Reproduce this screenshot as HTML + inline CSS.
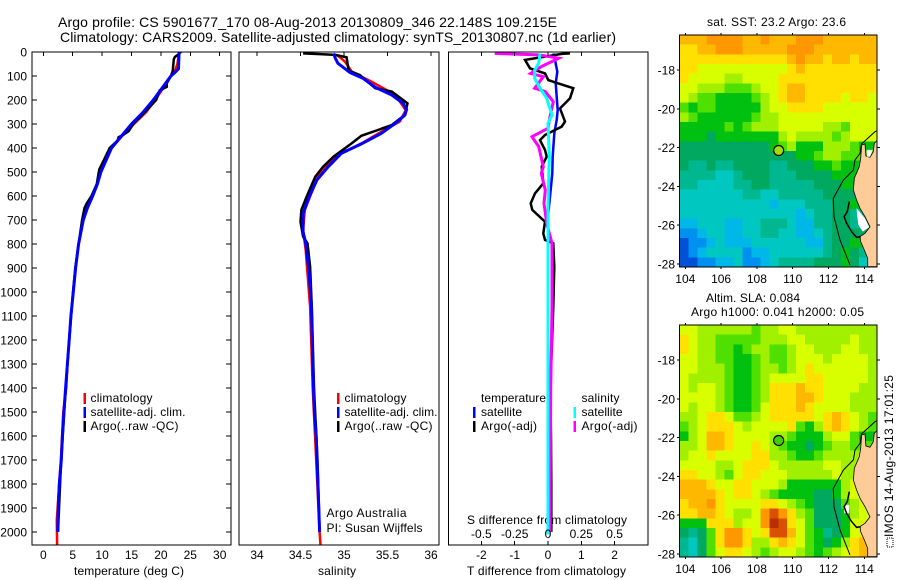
<!DOCTYPE html>
<html>
<head>
<meta charset="utf-8">
<title>Argo profile</title>
<style>
html,body{margin:0;padding:0;background:#fff;width:900px;height:580px;overflow:hidden}
svg{display:block}
text{font-family:"Liberation Sans",sans-serif;font-size:12px;fill:#000}
</style>
</head>
<body>
<svg id="chart" xmlns="http://www.w3.org/2000/svg" width="900" height="580" viewBox="0 0 900 580">
<text x="58" y="27" style="font-size:14px" textLength="499" lengthAdjust="spacing">Argo profile: CS 5901677_170 08-Aug-2013 20130809_346 22.148S 109.215E</text>
<text x="60" y="42" style="font-size:14px" textLength="556" lengthAdjust="spacing">Climatology: CARS2009. Satellite-adjusted climatology: synTS_20130807.nc (1d earlier)</text>

<text x="74" y="575" textLength="110" lengthAdjust="spacing">temperature (deg C)</text>
<text x="318" y="575" textLength="38" lengthAdjust="spacing">salinity</text>
<text x="467" y="575" textLength="159" lengthAdjust="spacing">T difference from climatology</text>
<text x="467" y="524" textLength="160" lengthAdjust="spacing">S difference from climatology</text>

<rect x="83.5" y="393" width="2.5" height="11" fill="#ff0000"/>
<rect x="83.5" y="407" width="2.5" height="11" fill="#0000ff"/>
<rect x="83.5" y="421" width="2.5" height="11" fill="#000000"/>
<text x="90.5" y="402" textLength="62" lengthAdjust="spacing">climatology</text>
<text x="90.5" y="416" textLength="95" lengthAdjust="spacing">satellite-adj. clim.</text>
<text x="90.5" y="430" textLength="88" lengthAdjust="spacing">Argo(..raw -QC)</text>

<rect x="337" y="393" width="2.5" height="11" fill="#ff0000"/>
<rect x="337" y="407" width="2.5" height="11" fill="#0000ff"/>
<rect x="337" y="421" width="2.5" height="11" fill="#000000"/>
<text x="344.5" y="402" textLength="62" lengthAdjust="spacing">climatology</text>
<text x="344.5" y="416" textLength="93" lengthAdjust="spacing">satellite-adj. clim.</text>
<text x="344.5" y="430" textLength="88" lengthAdjust="spacing">Argo(..raw -QC)</text>
<text x="326.5" y="517" textLength="80" lengthAdjust="spacing">Argo Australia</text>
<text x="326.5" y="532" textLength="96" lengthAdjust="spacing">PI: Susan Wijffels</text>

<rect x="473" y="407" width="2.5" height="11" fill="#0000ff"/>
<rect x="473" y="421" width="2.5" height="11" fill="#000000"/>
<rect x="573.5" y="407" width="2.5" height="11" fill="#00ffff"/>
<rect x="573.5" y="421" width="2.5" height="11" fill="#ff00ff"/>
<text x="481" y="402" textLength="65" lengthAdjust="spacing">temperature</text>
<text x="481" y="416" textLength="41" lengthAdjust="spacing">satellite</text>
<text x="481" y="430" textLength="56" lengthAdjust="spacing">Argo(-adj)</text>
<text x="581.5" y="402" textLength="38" lengthAdjust="spacing">salinity</text>
<text x="581.5" y="416" textLength="41" lengthAdjust="spacing">satellite</text>
<text x="581.5" y="430" textLength="56" lengthAdjust="spacing">Argo(-adj)</text>

<text x="707" y="26" textLength="139" lengthAdjust="spacing">sat. SST: 23.2 Argo: 23.6</text>
<text x="706" y="302" textLength="94" lengthAdjust="spacing">Altim. SLA: 0.084</text>
<text x="691" y="316" textLength="173" lengthAdjust="spacing">Argo h1000: 0.041 h2000: 0.05</text>

<rect x="887" y="538" width="6" height="9" fill="none" stroke="#000" stroke-width="1" stroke-dasharray="1 1"/>
<text transform="translate(893,537) rotate(-90)" textLength="162" lengthAdjust="spacing">IMOS 14-Aug-2013 17:01:25</text>
</svg>

<script>
// ---- profile data ----
const tempDepths      = [0,70,85,100,150,200,250,300,350,400,450,500,550,600,650,700,800,900,1000,1100,1200,1300,1400,1500,1600,1700,1800,1900,2000];
const tempSatellite   = [23.1,23.0,22.4,21.7,20.2,18.7,17.0,15.0,13.3,11.6,10.7,9.8,9.2,8.4,7.5,6.8,6.0,5.5,5.1,4.7,4.4,4.1,3.8,3.5,3.24,3.06,2.72,2.55,2.45];
const tempClimDepths  = [0,50,85,100,150,200,250,300,350,400,450,500,550,600,650,700,800,900,1000,1100,1200,1300,1400,1500,1600,1700,1800,1950,2054];
const tempClimatology = [23.1,22.8,22.3,21.7,20.4,19.0,17.5,15.4,13.4,11.6,10.7,9.8,9.2,8.4,7.5,6.8,6.0,5.5,5.1,4.7,4.4,4.1,3.9,3.4,3.2,3.0,2.7,2.3,2.35];
const tempArgoDepths  = [0,10,20,30,80,100,130,145,160,200,250,300,330,345,355,370,400,450,490,550,600,630,650,700,800,900,1000,1250,1500,1750,2000];
const tempArgo        = [23.4,23.0,22.4,22.2,22.0,21.7,21.0,21.0,19.8,19.2,17.3,15.3,14.5,13.6,12.8,12.6,11.3,10.3,9.5,9.1,8.2,7.4,7.0,6.6,6.0,5.45,5.05,4.25,3.55,2.95,2.5];

const salSatDepths    = [6,26,47,86,110,147,179,214,239,263,297,339,383,422,478,533,603,672,749,797,922,1061,1400,1500,1600,1700,1800,1900,2000];
const salSatellite    = [34.88,34.90,34.93,35.07,35.22,35.36,35.55,35.68,35.72,35.70,35.59,35.43,35.20,34.97,34.82,34.69,34.60,34.53,34.53,34.56,34.60,34.625,34.65,34.66,34.68,34.69,34.70,34.71,34.72];
const salClimDepths   = [12,40,82,124,179,242,290,332,381,436,519,658,742,825,922,1061,1400,1700,2000,2054];
const salClimatology  = [34.92,35.01,35.09,35.32,35.59,35.71,35.64,35.43,35.20,34.90,34.70,34.55,34.53,34.56,34.58,34.61,34.64,34.68,34.72,34.73];
const salArgoDepths   = [6,8,12,22,68,80,96,151,165,214,262,304,325,349,380,436,478,519,603,658,707,769,797,894,1061,1400,1700,2000];
const salArgo         = [34.53,34.66,34.90,35.03,35.05,35.07,35.18,35.36,35.55,35.73,35.70,35.55,35.39,35.20,35.09,34.88,34.76,34.67,34.57,34.51,34.50,34.53,34.58,34.61,34.63,34.655,34.695,34.72];

const dTSatDepths     = [6,33,82,131,186,242,283,339,436,506,603,672,783,1061,1500,2000];
const dTSatellite     = [0.16,0.21,0.28,0.23,0.26,0.29,0.26,0.19,0.14,0.13,0.06,0.01,0.01,0.0,0.0,0.0];
const dTArgoDepths    = [6,8,33,68,89,117,131,151,193,235,290,311,346,367,408,436,478,547,589,631,658,707,756,783,797,894,1061,1400,1600,1800,2000];
const dTArgo          = [0.66,0.41,-0.69,-0.54,-0.09,0.01,0.31,0.76,0.66,0.36,0.51,0.41,-0.09,-0.24,-0.09,-0.04,-0.19,-0.14,-0.39,-0.52,-0.47,-0.09,-0.14,-0.09,0.16,0.19,0.16,0.07,0.09,0.10,0.10];
const dSArgoDepths    = [6,12,26,61,89,103,151,165,207,269,318,353,394,478,506,575,631,714,797,1061,1400,2000];
const dSArgo          = [-0.40,-0.07,0.08,-0.05,-0.13,-0.035,-0.10,-0.02,0.04,0.015,0,-0.12,-0.07,-0.035,-0.05,-0.02,-0.03,-0.01,0.03,0.03,0.02,0.015];
const dSSatDepths     = [6,47,75,110,151,193,262,297,436,644,1061,2010];
const dSSatellite     = [-0.06,-0.07,-0.10,-0.10,-0.06,-0.01,0.03,0,0.01,0,0,0];

// ---- tick labels ----
const depthTicks = [0,100,200,300,400,500,600,700,800,900,1000,1100,1200,1300,1400,1500,1600,1700,1800,1900,2000];
const tempTicks  = [0,5,10,15,20,25,30];
const salTicks   = [34,34.5,35,35.5,36];
const dTTicks    = [-2,-1,0,1,2];
const dSTicks    = [-0.5,-0.25,0,0.25,0.5];
const lonTicks   = [104,106,108,110,112,114];
const latTicks   = [-18,-20,-22,-24,-26,-28];

// ---- map fields: colour-level per cell, north to south, west to east ----
const sstField = [
[11,11,11,12,12,12,12,11,11,12,11,11,11,12,12,12,11,11,11,11,11,11],
[10,10,11,11,12,12,12,11,11,11,11,11,12,12,12,11,11,11,11,11,11,11],
[10,10,10,10,10,10,10,10,10,10,10,10,11,12,11,11,10,11,11,10,11,11],
[10,10,9,9,9,9,9,9,9,9,9,9,10,11,10,10,10,10,10,10,10,10],
[10,9,9,9,9,8,8,9,9,9,9,10,10,10,10,10,10,10,10,10,10,10],
[9,9,8,8,8,7,7,7,8,9,9,10,11,11,10,10,10,10,10,10,10,10],
[9,8,7,7,6,6,6,6,7,8,9,10,11,11,10,10,10,10,9,10,10,9],
[7,6,7,7,6,6,6,6,6,8,9,9,10,10,10,10,9,9,9,9,9,9],
[8,7,6,6,6,6,6,6,7,8,8,9,9,9,9,9,9,9,9,9,9,9],
[6,6,6,6,6,7,6,7,8,8,8,9,9,9,9,9,8,8,7,9,9,9],
[6,6,6,5,6,6,6,6,6,6,6,8,9,8,8,8,8,7,8,9,9,9],
[5,5,5,5,5,5,5,5,5,5,6,7,8,6,6,6,8,8,8,7,6,6],
[5,5,5,5,5,5,5,5,5,5,5,5,5,6,6,7,8,8,7,7,7,7],
[5,4,4,5,4,4,5,5,5,5,4,4,5,5,5,6,6,7,6,6,6,6],
[4,4,4,4,3,3,4,5,5,5,4,4,4,5,5,5,5,6,6,6,6,6],
[4,4,3,3,3,3,4,4,5,5,4,4,4,4,4,5,5,5,6,6,6,6],
[3,3,3,3,3,3,3,4,4,3,3,4,4,4,4,4,5,5,5,5,5,5],
[3,3,3,3,3,3,3,3,3,3,2,3,3,3,4,4,4,5,5,6,6,6],
[3,3,3,3,3,3,3,3,3,3,3,3,3,2,3,4,4,5,5,4,4,4],
[2,2,3,3,3,2,2,3,3,4,4,4,3,2,2,4,4,5,5,4,4,4],
[1,1,2,3,3,2,2,3,3,4,4,3,3,2,2,3,4,5,5,5,5,5],
[0,1,1,2,3,2,2,2,3,3,3,3,3,3,2,2,4,5,5,6,6,6],
[0,1,2,3,3,3,3,1,2,2,3,3,3,3,3,3,4,5,6,5,4,4],
[0,0,1,1,2,2,3,1,1,2,3,4,4,4,4,5,5,5,6,5,3,3]
];
const slaField = [
[9,9,8,8,8,8,8,8,7,8,8,9,9,8,8,8,8,8,8,8,8,8],
[10,9,8,8,7,7,7,7,7,8,8,8,9,9,8,8,8,8,8,9,8,8],
[10,9,8,8,7,7,6,7,8,8,7,7,8,9,9,8,8,8,9,9,8,8],
[9,9,8,8,7,7,6,6,7,8,7,7,8,9,9,9,8,9,9,9,9,8],
[9,9,8,8,8,7,6,6,7,8,8,7,8,9,10,9,9,9,9,9,9,8],
[9,8,8,8,8,7,6,6,7,8,9,9,9,9,10,10,9,9,9,9,9,8],
[9,8,9,9,8,7,6,6,7,8,10,10,10,11,10,10,9,9,9,9,8,8],
[9,9,9,9,8,7,6,6,7,8,10,10,10,11,11,10,9,9,9,8,8,8],
[9,8,9,9,8,7,6,6,7,9,10,10,10,11,10,9,9,9,9,8,8,8],
[8,8,9,10,10,9,7,7,8,9,10,10,10,10,10,9,10,11,10,9,8,7],
[7,8,9,10,10,10,9,8,9,9,9,9,10,7,6,8,10,11,10,9,8,7],
[6,8,9,11,11,10,9,9,9,9,8,8,7,6,6,6,8,9,9,7,6,6],
[8,8,9,11,11,10,9,9,10,9,8,7,6,6,5,6,7,8,8,7,7,7],
[8,9,9,10,9,9,9,9,10,10,8,8,7,6,6,7,8,8,8,8,8,8],
[9,9,9,9,8,8,9,10,10,10,9,8,8,8,8,8,9,9,8,8,8,8],
[10,10,9,9,8,7,9,10,10,9,9,9,8,8,8,8,8,9,8,8,8,8],
[11,11,11,10,9,9,10,10,9,9,9,8,6,6,6,6,6,6,8,9,9,9],
[11,11,11,11,10,9,10,10,9,8,7,6,6,6,6,5,5,6,8,9,9,9],
[10,11,11,12,10,9,9,9,9,10,10,9,8,7,6,5,5,5,7,8,9,9],
[10,10,11,11,10,9,8,8,9,12,13,12,10,8,7,5,5,5,6,8,9,9],
[6,6,6,10,10,10,8,9,9,12,14,13,10,9,7,5,5,5,6,9,9,9],
[5,4,5,7,10,12,12,10,9,10,13,13,11,9,7,6,4,5,6,9,10,10],
[4,3,5,7,10,12,12,10,8,8,10,11,10,9,7,6,5,6,8,10,11,11],
[4,3,5,7,9,10,10,9,8,7,8,9,9,8,7,6,7,8,9,10,11,11]
];
const levelColors = ['#0050d8','#0090f0','#00b8e8','#00c8c0','#00b890','#00a860','#00c010','#50e000','#a0f000','#d8ff00','#ffe000','#ffb800','#ff9800','#d85000','#b83000'];

// ---- geography (degrees) ----
const landLon = [113.85,114.04,114.09,114.32,114.50,114.56,114.71,114.71,114.19,114.19,114.04,113.80,113.76,114.04,114.32,114.04,113.76,113.57,113.39,113.44,113.72,113.80];
const landLat = [-21.87,-21.81,-22.43,-22.50,-22.21,-21.78,-21.64,-28.14,-28.14,-27.71,-27.36,-26.85,-26.59,-26.42,-26.08,-25.56,-25.13,-24.70,-24.19,-23.58,-22.98,-22.55];
const contourLon = [114.71,114.60,113.85,113.76,113.48,113.39,112.83,112.27,112.31,112.64,113.20];
const contourLat = [-21.13,-21.18,-21.81,-22.30,-22.64,-23.15,-23.67,-24.62,-25.56,-26.76,-28.05];
const bayLon = [113.16,113.05,112.87,113.01,113.29,113.57,113.80];
const bayLat = [-24.79,-25.30,-25.56,-25.90,-26.33,-26.63,-26.59];
const sstWhiteLon = [113.57,114.04,114.28,113.91,113.67,113.61];
const sstWhiteLat = [-25.13,-25.65,-26.11,-26.33,-25.99,-25.56];
const slaWhiteLon = [112.87,113.16,113.16,112.87];
const slaWhiteLat = [-25.47,-25.47,-25.90,-25.90];
const gulfWhiteLon = [114.13,114.47,114.32,114.16];
const gulfWhiteLat = [-22.12,-22.12,-22.47,-22.47];
const argoLon = 109.215;
const argoLat = -22.148;

// ---- axis functions ----
const depthY = d => 52 + 0.24 * d;
const tempX = t => 43.3 + 5.88 * t;
const salX = s => 257 + 87 * (s - 34);
const dTX = v => 548 + 33.3 * v;
const dSX = v => 548 + 133.2 * v;
const lonX = lon => 685.3 + 17.9 * (lon - 104);
const latY = (lat, top) => top + 70 + 19.4 * (-18 - lat);

const svg = document.getElementById('chart');
const NS = 'http://www.w3.org/2000/svg';
function mk(tag, attrs, parent) {
  const el = document.createElementNS(NS, tag);
  for (const k in attrs) el.setAttribute(k, attrs[k]);
  (parent || svg).appendChild(el);
  return el;
}
function label(str, x, y, anchor) {
  const el = mk('text', {x: x, y: y, 'text-anchor': anchor});
  el.textContent = str;
  return el;
}

// clip regions
const defs = mk('defs', {});
function clip(id, x, y, w, h) {
  const c = mk('clipPath', {id: id}, defs);
  mk('rect', {x: x, y: y, width: w, height: h}, c);
}
clip('clip-temp', 32, 52, 199, 493);
clip('clip-sal', 239, 52, 200, 493);
clip('clip-diff', 448.5, 52, 199.5, 493);
clip('clip-map1', 679.5, 35, 197.5, 232);
clip('clip-map2', 679.5, 325, 197.5, 232);

function series(depths, values, xFn, color, clipId, width) {
  const pts = depths.map((d, i) => xFn(values[i]).toFixed(1) + ',' + depthY(d).toFixed(1)).join(' ');
  return mk('polyline', {points: pts, fill: 'none', stroke: color, 'stroke-width': width, 'stroke-linejoin': 'miter', 'clip-path': 'url(#' + clipId + ')'});
}

// ---- temperature panel ----
let el;
el = series(tempClimDepths, tempClimatology, tempX, '#ff0000', 'clip-temp', 2.5);


el = series(tempArgoDepths, tempArgo, tempX, '#000000', 'clip-temp', 2.5);


el = series(tempDepths, tempSatellite, tempX, '#0000ff', 'clip-temp', 3);



// ---- salinity panel ----
el = series(salClimDepths, salClimatology, salX, '#ff0000', 'clip-sal', 2.5);


el = series(salArgoDepths, salArgo, salX, '#000000', 'clip-sal', 2.5);


el = series(salSatDepths, salSatellite, salX, '#0000ff', 'clip-sal', 3);



// ---- difference panel ----
el = series(dTSatDepths, dTSatellite, dTX, '#0000ff', 'clip-diff', 2.5);


el = series(dTArgoDepths, dTArgo, dTX, '#000000', 'clip-diff', 2.5);


el = series(dSArgoDepths, dSArgo, dSX, '#ff00ff', 'clip-diff', 3);


el = series(dSSatDepths, dSSatellite, dSX, '#00ffff', 'clip-diff', 3);



// ---- panel frames ----
el = mk('rect', {x: 32, y: 52, width: 199, height: 493, fill: 'none', stroke: '#000', 'stroke-width': 1, 'shape-rendering': 'crispEdges'});


el = mk('rect', {x: 239, y: 52, width: 200, height: 493, fill: 'none', stroke: '#000', 'stroke-width': 1, 'shape-rendering': 'crispEdges'});


el = mk('rect', {x: 448.5, y: 52, width: 199.5, height: 493, fill: 'none', stroke: '#000', 'stroke-width': 1, 'shape-rendering': 'crispEdges'});



function tick(x1, y1, x2, y2) {
  return mk('line', {x1: x1, y1: y1, x2: x2, y2: y2, stroke: '#000', 'stroke-width': 1, 'shape-rendering': 'crispEdges'});
}

// ---- depth axis ----
depthTicks.forEach(d => {
  const y = depthY(d);
  el = tick(32, y, 37, y);
  
  
  el = tick(226, y, 231, y);
  
  
  el = label(String(d), 27, y + 4.5, 'end');
  
  
});

// ---- x axes ----
tempTicks.forEach(t => {
  el = tick(tempX(t), 52, tempX(t), 56);
  
  
  el = label(String(t), tempX(t), 559, 'middle');
  
  
});
salTicks.forEach(s => {
  el = tick(salX(s), 52, salX(s), 56);
  
  
  el = label(String(s), salX(s), 559, 'middle');
  
  
});
dTTicks.forEach(v => {
  el = tick(dTX(v), 52, dTX(v), 56);
  
  
  el = tick(dTX(v), 541, dTX(v), 545);
  
  
  el = label(String(v), dTX(v), 559, 'middle');
  
  
});
dSTicks.forEach(v => {
  el = label(String(v), dSX(v), 538, 'middle');
  
  
});

// ---- maps ----
function poly(lons, lats, top) {
  return lons.map((lon, i) => lonX(lon).toFixed(1) + ',' + latY(lats[i], top).toFixed(1)).join(' ');
}
function drawMap(field, top, clipId, whites, markerColor) {
  const left = 679.5, w = 197.5, h = 232;
  const cw = w / field[0].length, ch = h / field.length;
  const g = mk('g', {'clip-path': 'url(#' + clipId + ')', 'shape-rendering': 'crispEdges'});
  
  
  field.forEach((row, r) => row.forEach((v, c) => {
    const cell = mk('rect', {x: (left + c * cw).toFixed(2), y: (top + 35 + r * ch).toFixed(2), width: (cw + 0.5).toFixed(2), height: (ch + 0.5).toFixed(2), fill: levelColors[v]}, g);
    
    
  }));
  const g2 = mk('g', {'clip-path': 'url(#' + clipId + ')'});
  
  
  const land = mk('polygon', {points: poly(landLon, landLat, top), fill: '#ffcc99', stroke: '#000', 'stroke-width': 0.8}, g2);
  
  
  whites.forEach(wh => {
    const p = mk('polygon', {points: poly(wh[0], wh[1], top), fill: '#fff'}, g2);
    
    
  });
  const cont = mk('polyline', {points: poly(contourLon, contourLat, top), fill: 'none', stroke: '#000', 'stroke-width': 1}, g2);
  
  
  const bay = mk('polyline', {points: poly(bayLon, bayLat, top), fill: 'none', stroke: '#000', 'stroke-width': 1.5}, g2);
  
  
  const m = mk('circle', {cx: lonX(argoLon), cy: latY(argoLat, top), r: 5, fill: markerColor, stroke: '#000', 'stroke-width': 1.2}, g2);
  
  
  const frame = mk('rect', {x: left, y: top + 35, width: w, height: h, fill: 'none', stroke: '#000', 'stroke-width': 1, 'shape-rendering': 'crispEdges'});
  
  
  lonTicks.forEach(lon => {
    let t = tick(lonX(lon), top + 33, lonX(lon), top + 35);
    
    
    t = tick(lonX(lon), top + 267, lonX(lon), top + 269);
    
    
    t = label(String(lon), lonX(lon), top === 0 ? 283 : 573, 'middle');
    
    
  });
  latTicks.forEach(lat => {
    const y = latY(lat, top);
    let t = tick(677, y, 679.5, y);
    
    
    t = tick(877, y, 880, y);
    
    
    t = label(String(lat), 675, y + 4.5, 'end');
    
    
  });
}
drawMap(sstField, 0, 'clip-map1', [[sstWhiteLon, sstWhiteLat], [gulfWhiteLon, gulfWhiteLat]], '#a0e000');
drawMap(slaField, 290, 'clip-map2', [[slaWhiteLon, slaWhiteLat]], '#40d000');
</script>
</body>
</html>
